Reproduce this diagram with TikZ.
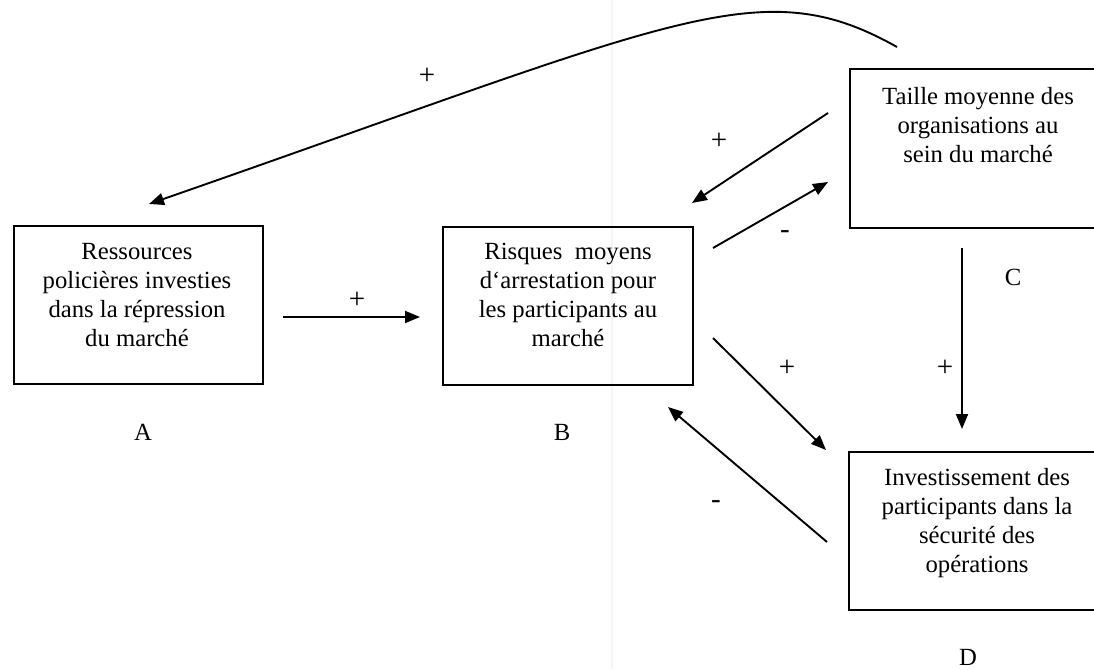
\documentclass[tikz,border=0pt]{standalone}
\usepackage{fontspec}
\setmainfont{Liberation Serif}
\usetikzlibrary{arrows.meta}
\begin{document}
\begin{tikzpicture}[x=1pt,y=-1pt,
  box/.style={draw, line width=2pt, inner sep=0pt, anchor=north west, minimum height=158pt},
  txt/.style={font=\fontsize{24.7}{29}\selectfont, align=center, inner sep=0pt},
  lbl/.style={font=\fontsize{24.7}{29}\selectfont, inner sep=0pt},
  sgn/.style={font=\fontsize{29}{30}\selectfont, inner sep=0pt},
  conn/.style={line width=1.9pt, -{Triangle[length=15pt,width=12pt]}}]
\clip (0,0) rectangle (1094,669);
\fill[white] (0,0) rectangle (1094,669);
% faint scan fold
\draw[gray!8, line width=2pt] (612,0) -- (612,669);
% boxes
\node[box, minimum width=249pt] (A) at (13,225) {};
\node[box, minimum width=250pt] (B) at (442,226) {};
\node[box, minimum width=256pt, minimum height=159pt] (C) at (849,68) {};
\node[box, minimum width=256pt] (D) at (848,451) {};
% box texts
\node[txt] (At) at (137,295) {Ressources\\policières investies\\dans la répression\\du marché};
\node[txt] (Bt) at (568,295) {Risques~~moyens\\d{\char"60}arrestation pour\\les participants au\\marché};
\node[txt] (Ct) at (978,125) {Taille moyenne des\\organisations au\\sein du marché};
\node[txt] (Dt) at (977,523) {Investissement des\\participants dans la\\sécurité des\\opérations};
% letters
\node[lbl] (LA) at (143,432) {A};
\node[lbl] (LB) at (562,432) {B};
\node[lbl] (LC) at (1013,277) {C};
\node[lbl] (LD) at (968,657) {D};
% connector end points
\coordinate (ab1) at (283,317);  \coordinate (ab2) at (420,317);
\coordinate (cb1) at (828,113);  \coordinate (cb2) at (692,203);
\coordinate (bc1) at (713,248);  \coordinate (bc2) at (828,182);
\coordinate (bd1) at (713,338);  \coordinate (bd2) at (826,450);
\coordinate (db1) at (827,542);  \coordinate (db2) at (668,407);
\coordinate (cd1) at (962,248);  \coordinate (cd2) at (962,429);
\coordinate (ca1) at (897,47);   \coordinate (ca2) at (149,204);
% connectors
\draw[conn] (ab1) -- (ab2);
\draw[conn] (cb1) -- (cb2);
\draw[conn] (bc1) -- (bc2);
\draw[conn] (bd1) -- (bd2);
\draw[conn] (db1) -- (db2);
\draw[conn] (cd1) -- (cd2);
\draw[conn] (ca1) .. controls (760,-30) and (680,19) .. (ca2);
% signs
\node[sgn] (sab) at (357,300) {+};
\node[sgn] (sca) at (427,76) {+};
\node[sgn] (scb) at (719,141) {+};
\node[sgn] (sbc) at (785,235) {-};
\node[sgn] (sbd) at (787,368) {+};
\node[sgn] (scd) at (945,368) {+};
\node[sgn] (sdb) at (716,505) {-};
\end{tikzpicture}
\end{document}
